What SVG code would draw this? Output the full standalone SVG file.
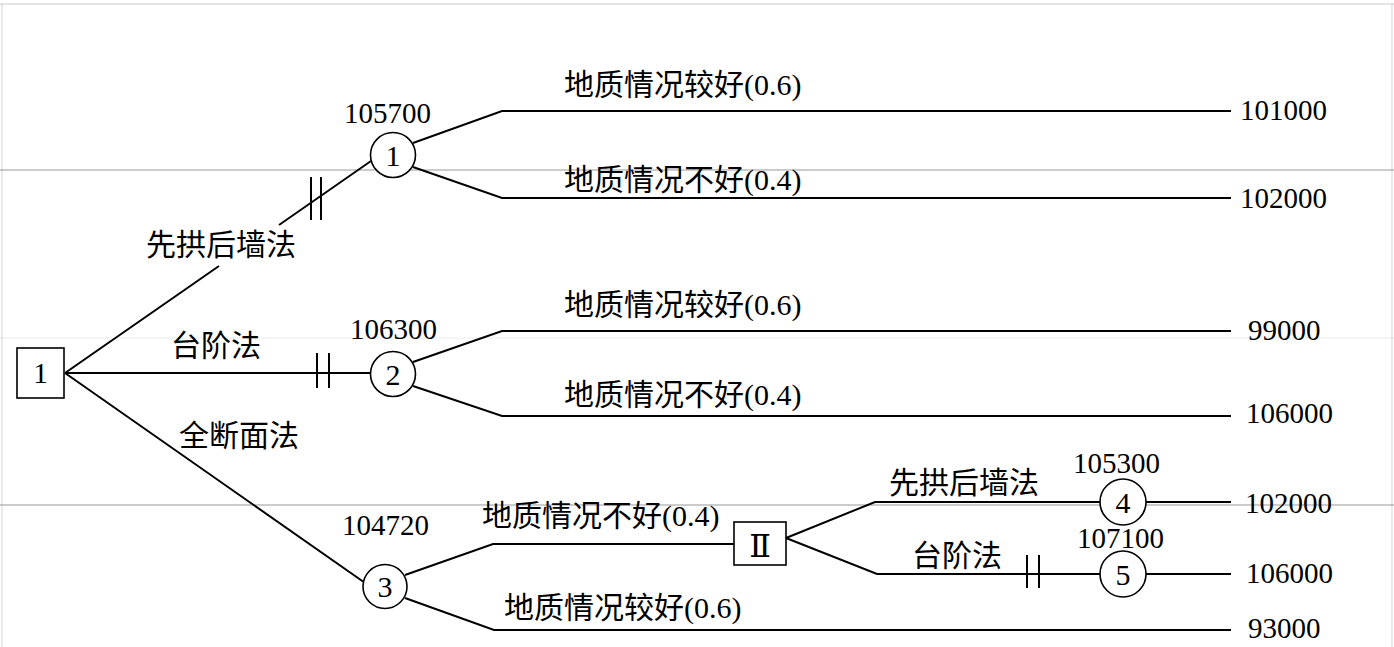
<svg xmlns="http://www.w3.org/2000/svg" width="1394" height="647" viewBox="0 0 1394 647">
<style>
.ln{stroke:#000;stroke-width:2;fill:none}
.nd{stroke:#000;stroke-width:1.6;fill:#fff}
.scan{stroke:#999;stroke-width:1}
.lab{font-family:"Liberation Serif","Noto Sans CJK SC",serif;font-size:30px;fill:#000}
.num{font-family:"Liberation Serif",serif;font-size:29px;fill:#000}
.nid{font-family:"Liberation Serif","DejaVu Serif","Noto Sans CJK SC",serif;font-size:30px;fill:#000;text-anchor:middle}
</style>
<rect width="1394" height="647" fill="#fff"/>
<g id="scan-lines">
<line class="scan" x1="0" y1="4" x2="1394" y2="4" stroke-opacity="0.5"/>
<line class="scan" x1="0" y1="170" x2="1394" y2="170"/>
<line class="scan" x1="0" y1="338" x2="1394" y2="338" stroke-opacity="0.2"/>
<line class="scan" x1="0" y1="505" x2="1394" y2="505"/>
<line class="scan" x1="2" y1="4" x2="2" y2="647" stroke-opacity="0.4"/>
<line class="scan" x1="1392" y1="4" x2="1392" y2="647" stroke-opacity="0.4"/>
</g>
<g id="connectors">
<polyline class="ln" points="65,373 219,266"/>
<polyline class="ln" points="279,225 371,161"/>
<line class="ln" x1="311" y1="177" x2="311" y2="220"/>
<line class="ln" x1="321" y1="177" x2="321" y2="220"/>
<line class="ln" x1="65" y1="373" x2="370" y2="373"/>
<line class="ln" x1="317" y1="353" x2="317" y2="388"/>
<line class="ln" x1="329" y1="353" x2="329" y2="388"/>
<line class="ln" x1="65" y1="373" x2="363" y2="581.5"/>
<polyline class="ln" points="413,143 502,111 1231,111"/>
<polyline class="ln" points="413,167 502,198 1231,198"/>
<polyline class="ln" points="413,362 502,331 1231,331"/>
<polyline class="ln" points="413,386 502,416 1231,416"/>
<polyline class="ln" points="405,575 493,544 734,544"/>
<polyline class="ln" points="405,598 494,630 1231,630"/>
<polyline class="ln" points="786,538 875,502 1100,502"/>
<line class="ln" x1="1146" y1="502" x2="1231" y2="502"/>
<polyline class="ln" points="786,538 877,574 1100,574"/>
<line class="ln" x1="1146" y1="574" x2="1231" y2="574"/>
<line class="ln" x1="1027" y1="555" x2="1027" y2="588"/>
<line class="ln" x1="1039" y1="555" x2="1039" y2="588"/>
</g>
<g id="decision-1">
<rect class="nd" x="17" y="348" width="47" height="50"/>
<text class="nid" x="40.5" y="383">1</text>
</g>
<g id="chance-1">
<circle class="nd" cx="393" cy="155" r="22.5"/>
<text class="nid" x="393" y="165.5">1</text>
<text class="num" x="344" y="123">105700</text>
</g>
<g id="chance-2">
<circle class="nd" cx="393" cy="374" r="22.5"/>
<text class="nid" x="393" y="384.5">2</text>
<text class="num" x="350" y="339">106300</text>
</g>
<g id="chance-3">
<circle class="nd" cx="385" cy="586.5" r="22"/>
<text class="nid" x="385" y="597">3</text>
<text class="num" x="342" y="535">104720</text>
</g>
<g id="decision-2">
<rect class="nd" x="734" y="522" width="52" height="43"/>
<text class="nid" x="760" y="557" style="font-size:32px">Ⅱ</text>
</g>
<g id="chance-4">
<circle class="nd" cx="1123" cy="502" r="23"/>
<text class="nid" x="1123" y="512.5">4</text>
<text class="num" x="1073" y="473">105300</text>
</g>
<g id="chance-5">
<circle class="nd" cx="1123" cy="574" r="23"/>
<text class="nid" x="1123" y="584.5">5</text>
<text class="num" x="1077" y="548">107100</text>
</g>
<g id="labels">
<text class="lab" x="564" y="95">地质情况较好(0.6)</text>
<text class="lab" x="564" y="190">地质情况不好(0.4)</text>
<text class="lab" x="146" y="255">先拱后墙法</text>
<text class="lab" x="564" y="315">地质情况较好(0.6)</text>
<text class="lab" x="171" y="356">台阶法</text>
<text class="lab" x="564" y="405">地质情况不好(0.4)</text>
<text class="lab" x="179" y="446">全断面法</text>
<text class="lab" x="889" y="493">先拱后墙法</text>
<text class="lab" x="482" y="526">地质情况不好(0.4)</text>
<text class="lab" x="912" y="566">台阶法</text>
<text class="lab" x="504" y="618">地质情况较好(0.6)</text>
</g>
<g id="outcomes">
<text class="num" x="1240" y="120">101000</text>
<text class="num" x="1240" y="208">102000</text>
<text class="num" x="1248" y="340">99000</text>
<text class="num" x="1246" y="423">106000</text>
<text class="num" x="1245" y="513">102000</text>
<text class="num" x="1246" y="583">106000</text>
<text class="num" x="1248" y="638">93000</text>
</g>
</svg>
